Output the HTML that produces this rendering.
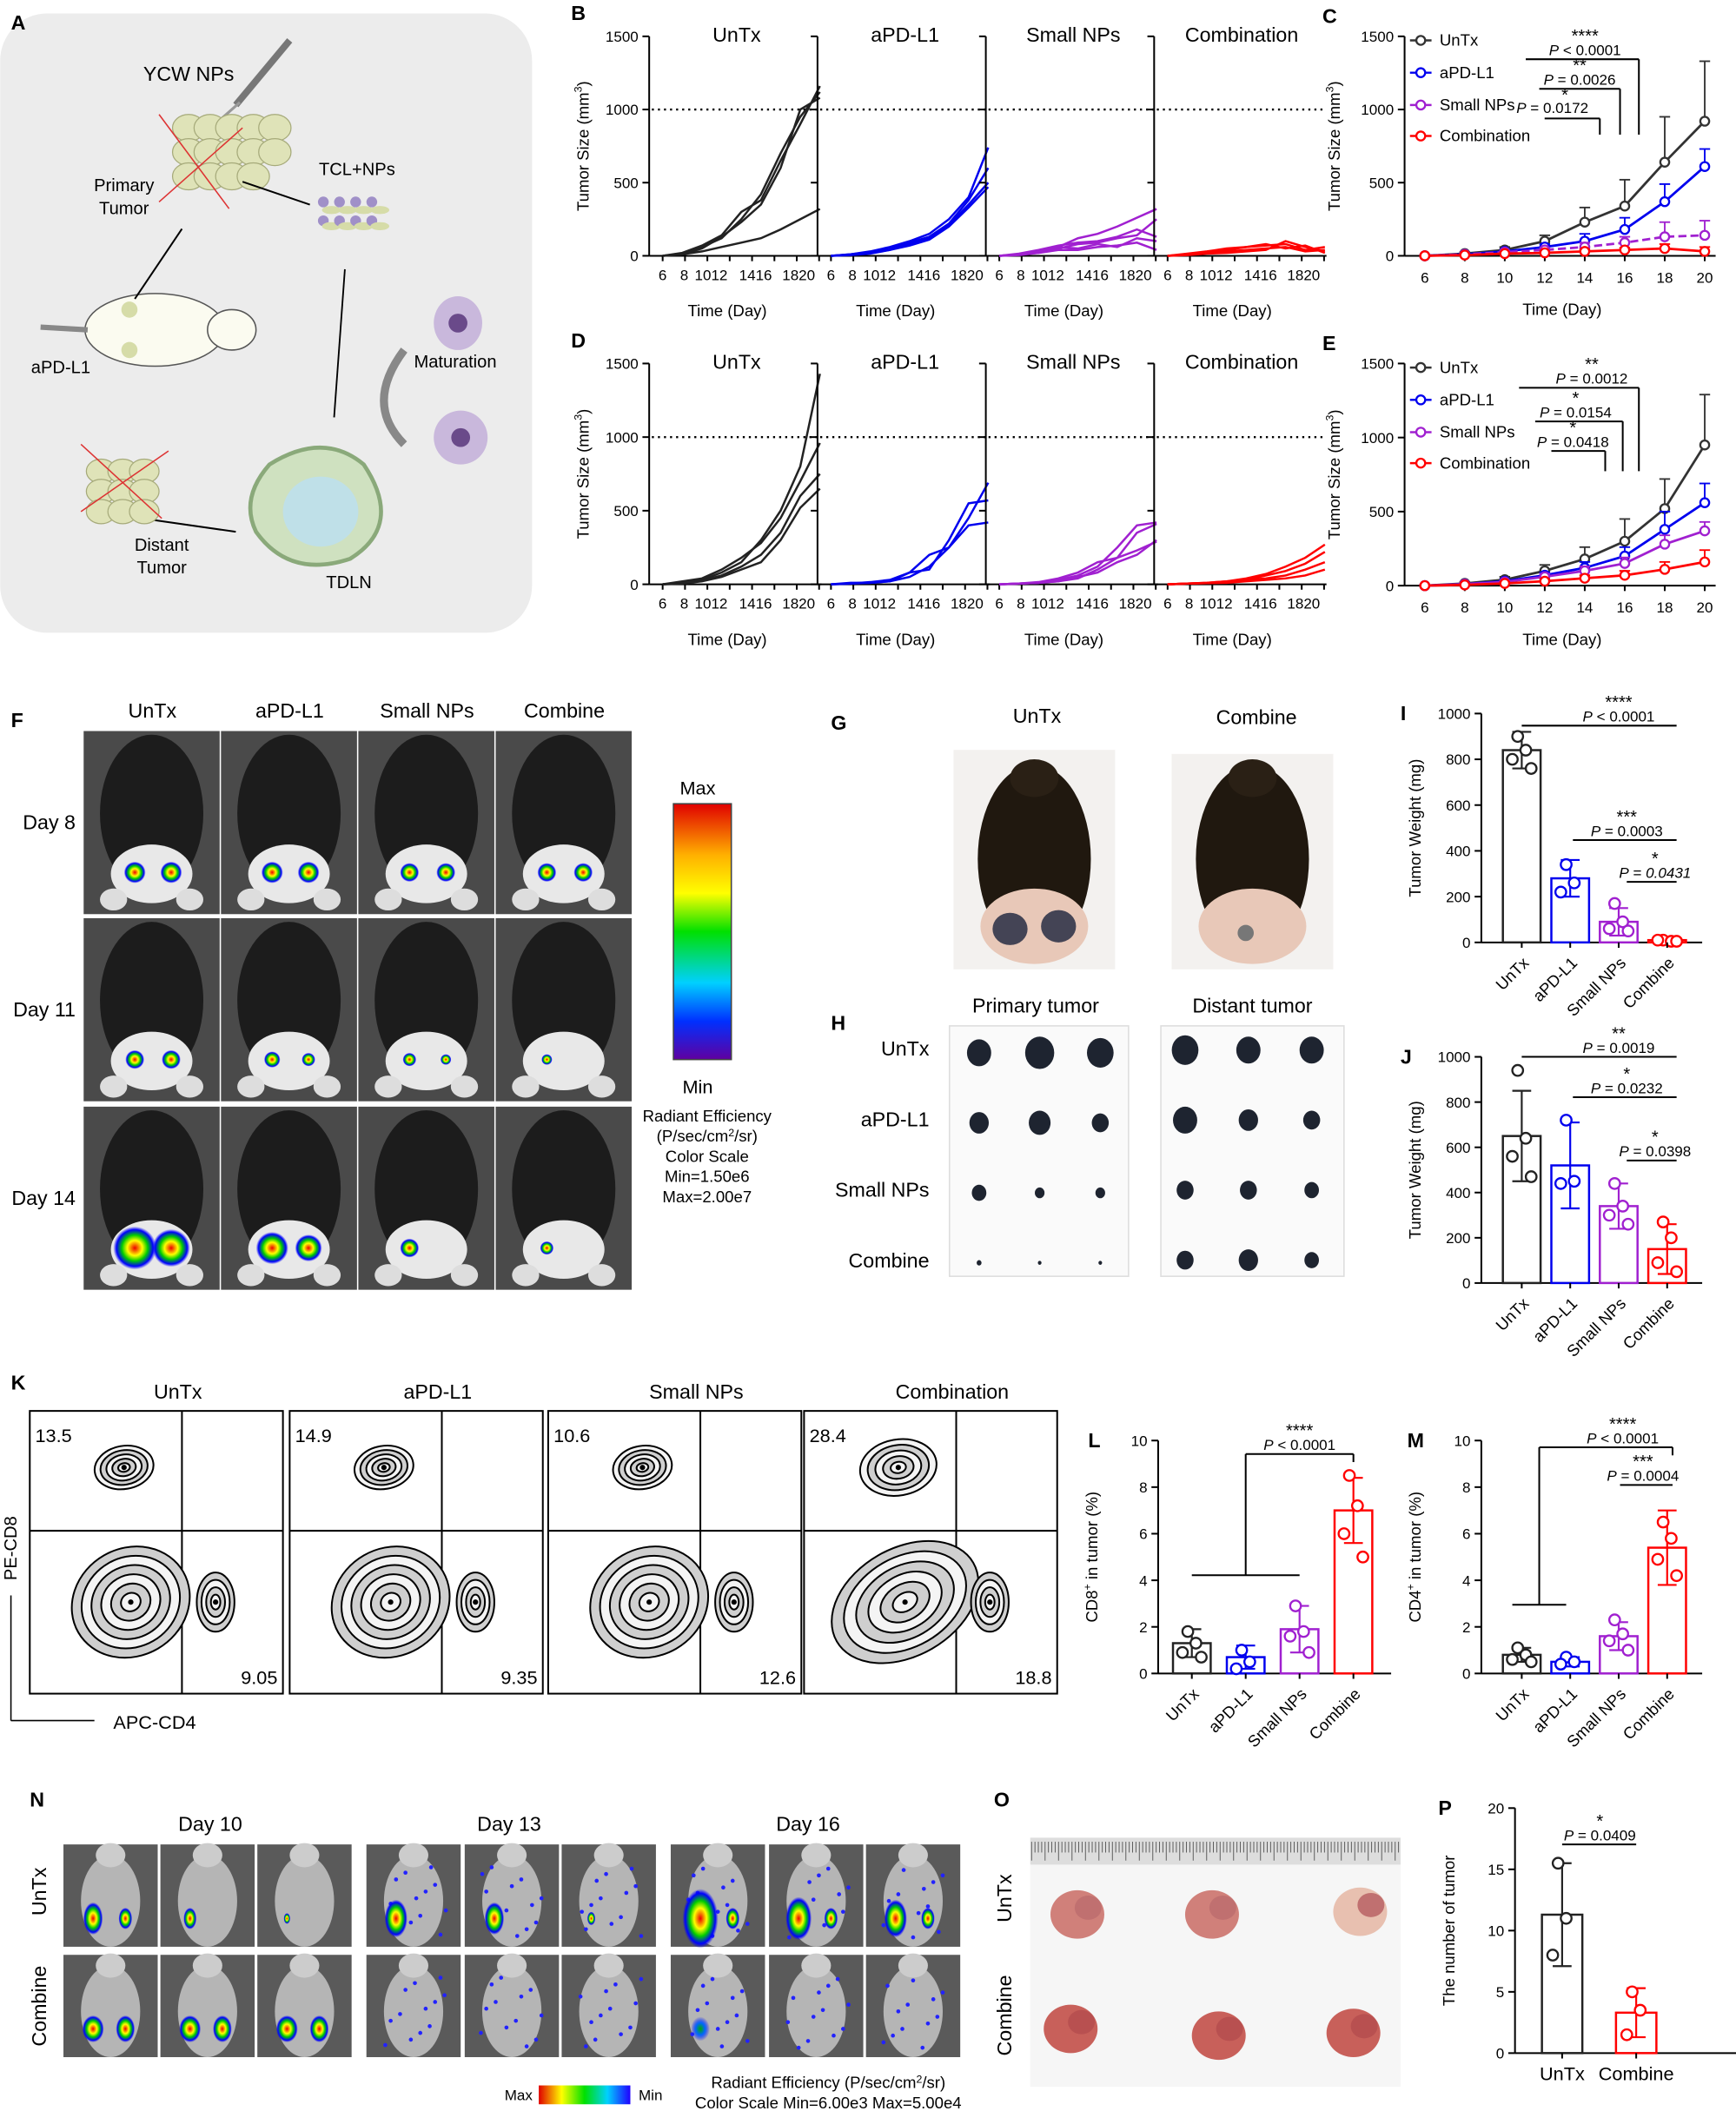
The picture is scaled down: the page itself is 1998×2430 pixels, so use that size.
<!DOCTYPE html>
<html><head><meta charset="utf-8">
<style>
html,body{margin:0;padding:0;background:#fff}
svg{display:block}
text{font-family:"Liberation Sans",Arial,sans-serif;fill:#000}
</style></head>
<body>
<svg id="s" width="1998" height="2430" viewBox="0 0 1289 1568" xmlns="http://www.w3.org/2000/svg">
<defs>
<linearGradient id="cb" x1="0" y1="0" x2="0" y2="1">
<stop offset="0" stop-color="#e00000"/><stop offset="0.2" stop-color="#ffb000"/><stop offset="0.35" stop-color="#ffff00"/><stop offset="0.5" stop-color="#00e000"/><stop offset="0.7" stop-color="#00d0ff"/><stop offset="0.85" stop-color="#0030ff"/><stop offset="1" stop-color="#6000a0"/></linearGradient>
<linearGradient id="cbh" x1="0" y1="0" x2="1" y2="0">
<stop offset="0" stop-color="#e00000"/><stop offset="0.25" stop-color="#ffff00"/><stop offset="0.5" stop-color="#00e000"/><stop offset="0.75" stop-color="#00d0ff"/><stop offset="1" stop-color="#2000ff"/></linearGradient>
<radialGradient id="spot"><stop offset="0" stop-color="#e00"/><stop offset="0.35" stop-color="#ff0"/><stop offset="0.6" stop-color="#0c0"/><stop offset="0.85" stop-color="#00f"/><stop offset="1" stop-color="#00f" stop-opacity="0"/></radialGradient>
<radialGradient id="spotb"><stop offset="0" stop-color="#0a0"/><stop offset="0.5" stop-color="#06f"/><stop offset="1" stop-color="#00f" stop-opacity="0"/></radialGradient>
</defs>
<g id="g"></g>
</svg>
<script>
var G=document.getElementById('g'),o='';
function T(x,y,s,sz,a,ex){o+='<text x="'+x+'" y="'+y+'" font-size="'+(sz||12)+'" text-anchor="'+(a||'start')+'" '+(ex||'')+'>'+s+'</text>';}
function L(x1,y1,x2,y2,c,w,ex){o+='<line x1="'+x1+'" y1="'+y1+'" x2="'+x2+'" y2="'+y2+'" stroke="'+(c||'#000')+'" stroke-width="'+(w||1.3)+'" '+(ex||'')+'/>';}
function R(x,y,w,h,f,ex){o+='<rect x="'+x+'" y="'+y+'" width="'+w+'" height="'+h+'" fill="'+f+'" '+(ex||'')+'/>';}
function E(x,y,rx,ry,f,ex){o+='<ellipse cx="'+x+'" cy="'+y+'" rx="'+rx+'" ry="'+ry+'" fill="'+f+'" '+(ex||'')+'/>';}
function P(pts,c,w,ex){o+='<polyline points="'+pts+'" fill="none" stroke="'+c+'" stroke-width="'+(w||1.5)+'" '+(ex||'')+'/>';}
function RT(x,y,s,sz,a){T(x,y,s,sz,a||'middle','transform="rotate(-90 '+x+' '+y+')"');}
function LBL(x,y,s){T(x,y,s,15,'start','font-weight="bold"');}
// ---------- Panel A
o+='<rect x="0" y="10" width="395" height="460" rx="35" fill="#ececec"/>';
LBL(8,22,'A');
T(140,60,'YCW NPs',15,'middle');
L(175,78,215,30,'#777',5);L(160,92,178,76,'#999',2);
for(var i=0;i<14;i++){E(140+(i%5)*16,95+Math.floor(i/5)*18,12,10,'#dfe3b8','stroke="#a6aa7a" stroke-width="0.8"');}
L(118,85,170,155,'#d33',1);L(118,150,180,95,'#d33',1);
T(92,142,'Primary',13,'middle');T(92,159,'Tumor',13,'middle');
L(180,135,230,152,'#000',1.3);
T(265,130,'TCL+NPs',13,'middle');
for(var i=0;i<8;i++){E(240+(i%4)*12,150+Math.floor(i/4)*14,4,4,'#a090c8');E(246+(i%4)*12,156+Math.floor(i/4)*12,7,3,'#d6dca8');}
E(115,245,52,27,'#fbfbf0','stroke="#555" stroke-width="1"');E(172,245,18,15,'#fbfbf0','stroke="#555" stroke-width="1"');
E(96,260,6,6,'#d6dca8');E(96,230,6,6,'#d6dca8');
L(30,243,65,245,'#888',4);T(45,277,'aPD-L1',13,'middle');
L(100,222,135,170,'#000',1.3);
L(256,200,248,310,'#000',1.2);
o+='<path d="M300 260 Q270 300 300 330" fill="none" stroke="#888" stroke-width="6"/>';
E(340,240,18,20,'#c9b8dc');E(340,240,7,7,'#6a4a8a');
E(342,325,20,20,'#c9b8dc');E(342,325,7,7,'#6a4a8a');
T(338,273,'Maturation',13,'middle');
o+='<path d="M200 345 Q240 320 270 345 Q300 390 260 415 Q215 430 190 395 Q178 370 200 345 Z" fill="#cfe1c0" stroke="#8aa97a" stroke-width="3"/>';
E(238,380,28,26,'#bfe0e8');
T(259,437,'TDLN',13,'middle');
L(175,395,105,385,'#000',1.3);
for(var i=0;i<9;i++){E(75+(i%3)*16,350+Math.floor(i/3)*15,11,9,'#dfe3b8','stroke="#a6aa7a" stroke-width="0.8"');}
L(60,330,120,385,'#d33',1);L(60,380,125,335,'#d33',1);
T(120,409,'Distant',13,'middle');T(120,426,'Tumor',13,'middle');
// ---------- B & D
var ttl=['UnTx','aPD-L1','Small NPs','Combination'],cols=['#222','#0000ee','#a020d0','#ff0000'];
var dataB=[
[[0,15,60,120,250,420,700,950,1120],[0,20,70,140,300,380,650,900,1160],[0,10,50,130,230,350,600,1000,1080],[0,10,30,60,90,120,180,250,320]],
[[0,10,30,60,100,150,250,400,740],[0,10,25,55,90,130,220,380,600],[0,8,20,40,80,120,210,350,500],[0,5,15,40,70,110,200,330,470]],
[[0,10,30,60,120,150,200,260,320],[0,5,20,50,80,90,120,140,250],[0,8,30,60,50,80,60,120,100],[0,15,40,70,90,100,130,180,130],[0,10,20,40,40,60,70,90,40]],
[[0,10,20,30,40,50,60,30,40],[0,15,30,50,60,70,80,40,60],[0,5,15,20,30,40,100,60,30],[0,8,20,40,60,80,50,70,20]]];
var dataD=[
[[0,10,30,80,150,300,500,800,1430],[0,20,40,100,180,280,450,700,960],[0,10,25,60,120,200,350,600,750],[0,5,20,50,100,150,300,520,650]],
[[0,5,10,20,50,120,250,450,690],[0,5,15,30,80,100,300,550,570],[0,10,10,20,80,200,250,400,420]],
[[0,5,10,30,60,120,250,400,420],[0,5,15,40,80,150,180,350,410],[0,5,10,20,50,80,150,200,300],[0,5,10,20,40,100,180,230,290]],
[[0,5,10,20,40,70,120,180,270],[0,5,10,20,30,60,90,140,220],[0,5,8,15,30,40,60,100,150],[0,5,8,10,20,30,40,60,100]]];
function small(top,bot,data,lb){
 var ax=[482,607,732,857];
 LBL(424,top-12,lb);
 RT(437,(top+bot)/2,'Tumor Size (mm<tspan dy="-5" font-size="8">3</tspan><tspan dy="5">)</tspan>',12);
 for(var p=0;p<4;p++){
  var x0=ax[p];
  T(x0+65,top+4,ttl[p],15,'middle');
  L(x0,top,x0,bot);
  for(var k=0;k<=3;k++){var yy=bot-(bot-top)*k/3;L(x0-5,yy,x0,yy);if(p==0)T(x0-8,yy+4,[0,500,1000,1500][k],11,'end');}
  L(x0,bot,x0+128,bot);
  L(x0+2,top+(bot-top)/3,x0+126,top+(bot-top)/3,'#000',1.5,'stroke-dasharray="1.5,3"');
  for(var d=0;d<8;d++){var xx=x0+10+d*16.6;L(xx,bot,xx,bot+4);}
  T(x0+10,bot+18,'6',11,'middle');T(x0+26,bot+18,'8',11,'middle');T(x0+46,bot+18,'1012',11,'middle');T(x0+79,bot+18,'1416',11,'middle');T(x0+111,bot+18,'1820',11,'middle');
  T(x0+58,bot+45,'Time (Day)',12,'middle');
  data[p].forEach(function(s){var pts=s.map(function(v,i){return (x0+10+i*14.6)+','+(bot-v/1500*(bot-top))}).join(' ');P(pts,cols[p],1.6);});
 }
}
small(27,190,dataB,'B');small(270,434,dataD,'D');
// ---------- C & E
function big(top,bot,lb,means,errs,sig){
 var x0=1043,xs=1058,xe=1266;
 LBL(982,top-10,lb);
 RT(995,(top+bot)/2,'Tumor Size (mm<tspan dy="-5" font-size="8">3</tspan><tspan dy="5">)</tspan>',12);
 L(x0,top,x0,bot);L(x0,bot,xe+8,bot);
 for(var k=0;k<=3;k++){var yy=bot-(bot-top)*k/3;L(x0-5,yy,x0,yy);T(x0-8,yy+4,[0,500,1000,1500][k],11,'end');}
 for(var d=0;d<8;d++){var xx=xs+d*29.7;L(xx,bot,xx,bot+4);T(xx,bot+20,6+2*d,11,'middle');}
 T(1160,bot+44,'Time (Day)',12,'middle');
 for(var s=0;s<4;s++){
  var c=cols[s];if(s==0)c='#333';
  var pts=[];
  means[s].forEach(function(v,i){var xx=xs+i*29.7,yy=bot-v/1500*(bot-top),ey=errs[s][i]/1500*(bot-top);pts.push(xx+','+yy);L(xx,yy-ey,xx,yy,c,1.2);L(xx-4,yy-ey,xx+4,yy-ey,c,1.2);});
  P(pts.join(' '),c,1.8,(s==2&&lb=='C')?'stroke-dasharray="6,3"':'');
  means[s].forEach(function(v,i){var xx=xs+i*29.7,yy=bot-v/1500*(bot-top);E(xx,yy,3.3,3.3,'#fff','stroke="'+c+'" stroke-width="1.5"');});
 }
 var ly=[top+3,top+27,top+51,top+74],nm=['UnTx','aPD-L1','Small NPs','Combination'];
 for(var s=0;s<4;s++){var c=s==0?'#333':cols[s];L(1047,ly[s],1063,ly[s],c,1.6);E(1055,ly[s],3.3,3.3,'#fff','stroke="'+c+'" stroke-width="1.5"');T(1069,ly[s]+4,nm[s],12);}
 sig.forEach(function(g){L(g[0],g[1],g[2],g[1]);L(g[2],g[1],g[2],g[3]);T(g[4],g[1]-3,g[5],11,'middle');T(g[4],g[1]-13,g[6],13,'middle');});
}
big(27,190,'C',[[0,15,40,100,230,340,640,920],[0,10,30,60,100,180,370,610],[0,10,25,40,60,90,130,140],[0,5,15,20,30,40,50,30]],[[0,10,20,40,100,180,310,410],[0,5,10,20,50,80,120,120],[0,5,10,15,30,40,100,100],[0,5,5,10,15,15,30,30]],
[[1133,44,1217,100,1177,'<tspan font-style="italic">P</tspan> &lt; 0.0001','****'],[1143,66,1203,100,1173,'<tspan font-style="italic">P</tspan> = 0.0026','**'],[1147,88,1188,100,1162,'','*']]);
T(1126,84,'<tspan font-style="italic">P</tspan> = 0.0172',11);
big(270,435,'E',[[0,15,40,100,180,300,520,950],[0,10,30,70,120,200,380,560],[0,10,25,60,100,150,280,370],[0,5,15,30,50,70,110,160]],[[0,10,20,40,80,150,200,340],[0,5,10,20,40,60,120,130],[0,5,10,20,30,40,60,60],[0,5,10,15,20,30,50,80]],
[[1128,288,1217,350,1182,'<tspan font-style="italic">P</tspan> = 0.0012','**'],[1140,313,1205,350,1170,'<tspan font-style="italic">P</tspan> = 0.0154','*'],[1152,335,1192,350,1168,'<tspan font-style="italic">P</tspan> = 0.0418','*']]);
// ---------- F
LBL(8,540,'F');
var fx=[62,164,266,368],fy=[543,682,822],fr=['Day 8','Day 11','Day 14'];
['UnTx','aPD-L1','Small NPs','Combine'].forEach(function(s,i){T(fx[i]+51,533,s,15,'middle');});
function mouse(x,y,w,h){R(x,y,w,h,'#4a4a4a');E(x+w/2,y+h*0.45,w*0.38,h*0.43,'#1c1c1c');E(x+w/2,y+h*0.78,w*0.3,h*0.16,'#e8e8e8');E(x+w*0.22,y+h*0.92,w*0.1,h*0.06,'#ddd');E(x+w*0.78,y+h*0.92,w*0.1,h*0.06,'#ddd');}
var spotsF=[[[8,8],[8,8],[7,7],[7,7]],[[7,7],[6,5],[5,4],[4,0]],[[16,14],[12,10],[7,0],[5,0]]];
for(var r=0;r<3;r++)for(var c=0;c<4;c++){var x=fx[c],y=fy[r];mouse(x,y,101,136);var sp=spotsF[r][c];
 if(sp[0])E(x+38,y+105,sp[0],sp[0],'url(#spot)');if(sp[1])E(x+65,y+105,sp[1],sp[1],'url(#spot)');}
fr.forEach(function(s,r){T(56,fy[r]+73,s,15,'end');});
R(500,597,43,190,'url(#cb)','stroke="#444" stroke-width="1"');
T(518,590,'Max',14,'middle');T(518,812,'Min',14,'middle');
['Radiant Efficiency','(P/sec/cm<tspan dy="-4" font-size="8">2</tspan><tspan dy="4">/sr)</tspan>','Color Scale','Min=1.50e6','Max=2.00e7'].forEach(function(s,i){T(525,833+i*15,s,12,'middle');});
// ---------- G
LBL(617,542,'G');T(770,537,'UnTx',15,'middle');T(933,538,'Combine',15,'middle');
R(708,557,120,163,'#f3f1ef');R(870,560,120,160,'#f3f1ef');
[[768,638],[930,638]].forEach(function(p,i){E(p[0],p[1],42,70,'#20180f');E(p[0],p[1]+50,40,28,'#e8c8b8');E(p[0],p[1]-60,18,14,'#2a2015');
 if(i==0){E(p[0]-18,p[1]+52,13,12,'#445');E(p[0]+18,p[1]+50,13,12,'#445');}else{E(p[0]-5,p[1]+55,6,6,'#777');}});
// ---------- H
LBL(617,765,'H');T(769,752,'Primary tumor',15,'middle');T(930,752,'Distant tumor',15,'middle');
R(705,762,133,186,'#fafafa','stroke="#ddd"');R(862,762,136,186,'#fafafa','stroke="#ddd"');
['UnTx','aPD-L1','Small NPs','Combine'].forEach(function(s,i){T(690,784+i*52.5,s,15,'end');});
var hs=[[[10,12,11],[11,10,10]],[[8,9,7],[10,8,7]],[[6,4,4],[7,7,6]],[[2,1.5,1.5],[7,8,6]]];
for(var r=0;r<4;r++)for(var c=0;c<3;c++){E(727+c*45,782+r*52,hs[r][0][c]*0.9,hs[r][0][c],'#1e2430');E(880+c*47,780+r*52,hs[r][1][c]*0.9,hs[r][1][c],'#1e2430');}
// ---------- bars
function bars(x0,top,bot,maxv,ticks,vals,errs,pts,names,ylab,lb,lbx,sigs,w,gap,start){
 LBL(lbx,top+5,lb);
 RT(x0-45,(top+bot)/2,ylab,12);
 L(x0,top,x0,bot);L(x0,bot,x0+start+gap*4-gap/2+8,bot);
 ticks.forEach(function(t){var yy=bot-t/maxv*(bot-top);L(x0-5,yy,x0,yy);T(x0-8,yy+4,t,11,'end');});
 for(var i=0;i<vals.length;i++){var cx=x0+start+i*gap,c=i==0?'#222':cols[i];if(vals.length==2)c=i==0?'#222':'#f00';
  var yy=bot-vals[i]/maxv*(bot-top),ey=errs[i]/maxv*(bot-top);
  R(cx-w/2,yy,w,bot-yy,'none','stroke="'+c+'" stroke-width="1.6"');
  L(cx,yy-ey,cx,yy+ey,c,1.4);L(cx-7,yy-ey,cx+7,yy-ey,c,1.4);L(cx-7,yy+ey,cx+7,yy+ey,c,1.4);
  pts[i].forEach(function(v,j){var dx=(j%2?1:-1)*(j>1?7:3);E(cx+dx,bot-v/maxv*(bot-top),4,4,'#fff','stroke="'+c+'" stroke-width="1.5"');});
  L(cx,bot,cx,bot+4);
  if(vals.length==2)T(cx,bot+20,names[i],14,'middle');
  else T(cx+6,bot+16,names[i],12,'end','transform="rotate(-45 '+(cx+6)+' '+(bot+16)+')"');
 }
 sigs.forEach(function(g){L(g[0],g[1],g[2],g[1]);T(g[3],g[1]-3,g[4],11,'middle');T(g[3],g[1]-13,g[5],13,'middle');if(g[6])o+=g[6];});
}
var nm4=['UnTx','aPD-L1','Small NPs','Combine'];
bars(1100,530,700,1000,[0,200,400,600,800,1000],[840,280,90,10],[80,80,60,10],[[900,840,800,760],[340,260,220],[170,90,60,50],[10,5,10,5]],nm4,'Tumor Weight (mg)','I',1040,
[[1130,539,1245,1202,'<tspan font-style="italic">P</tspan> &lt; 0.0001','****'],[1168,624,1245,1208,'<tspan font-style="italic">P</tspan> = 0.0003','***'],[1208,655,1245,1229,'<tspan font-style="italic">P</tspan> = <tspan font-style="italic">0.0431</tspan>','*']],28,36,30);
bars(1100,785,953,1000,[0,200,400,600,800,1000],[650,520,340,150],[200,190,100,110],[[940,640,560,470],[720,450,440],[440,340,300,260],[270,200,90,50]],nm4,'Tumor Weight (mg)','J',1040,
[[1130,785,1245,1202,'<tspan font-style="italic">P</tspan> = 0.0019','**'],[1168,815,1245,1208,'<tspan font-style="italic">P</tspan> = 0.0232','*'],[1208,862,1245,1229,'<tspan font-style="italic">P</tspan> = 0.0398','*']],28,36,30);
// ---------- K
LBL(8,1032,'K');
var kx=[22,215,407,597],kt=['UnTx','aPD-L1','Small NPs','Combination'],kq=[['13.5','9.05'],['14.9','9.35'],['10.6','12.6'],['28.4','18.8']];
function blob(cx,cy,rx,ry,rot,n){for(var i=n;i>0;i--){var f=i/n;E(cx,cy,rx*f,ry*f,i%2?'#f4f4f4':'#cfcfcf','stroke="#000" stroke-width="1.3" transform="rotate('+rot+' '+cx+' '+cy+')"');}E(cx,cy,2,2,'#000');}
for(var p=0;p<4;p++){var x=kx[p];T(x+110,1039,kt[p],15,'middle');R(x,1048,188,210,'#fff','stroke="#000" stroke-width="1.3"');
 L(x+113,1048,x+113,1258);L(x,1137,x+188,1137);
 T(x+4,1071,kq[p][0],14);T(x+184,1251,kq[p][1],14,'end');
 var bg=p==3?1.3:1;
 blob(x+70,1090,22*bg,16*bg,-10,5);blob(x+75,1190,45*bg,40,-30,6);blob(x+138,1190,14,22,0,4);}
RT(12,1150,'PE-CD8',13);L(8,1185,8,1278,'#000',1);L(8,1278,70,1278,'#000',1);T(84,1284,'APC-CD4',14);
bars(860,1070,1243,10,[0,2,4,6,8,10],[1.3,0.7,1.9,7],[0.6,0.5,1.0,1.4],[[1.8,1.3,0.9,0.7],[1.0,0.5,0.2],[2.9,1.8,1.6,0.9],[8.5,7.2,6,5]],nm4,'CD8<tspan dy="-5" font-size="8">+</tspan><tspan dy="5"> in tumor (%)</tspan>','L',808,
[[925,1080,1005,965,'<tspan font-style="italic">P</tspan> &lt; 0.0001','****','<line x1="925" y1="1080" x2="925" y2="1170" stroke="#000" stroke-width="1.3"/><line x1="885" y1="1170" x2="965" y2="1170" stroke="#000" stroke-width="1.3"/><line x1="1005" y1="1080" x2="1005" y2="1086" stroke="#000" stroke-width="1.3"/>']],28,40,25);
bars(1100,1070,1243,10,[0,2,4,6,8,10],[0.8,0.5,1.6,5.4],[0.3,0.2,0.6,1.6],[[1.1,0.8,0.6,0.5],[0.7,0.5,0.4],[2.3,1.7,1.4,1.0],[6.5,5.8,4.9,4.2]],nm4,'CD4<tspan dy="-5" font-size="8">+</tspan><tspan dy="5"> in tumor (%)</tspan>','M',1045,
[[1143,1075,1242,1205,'<tspan font-style="italic">P</tspan> &lt; 0.0001','****','<line x1="1143" y1="1075" x2="1143" y2="1192" stroke="#000" stroke-width="1.3"/><line x1="1123" y1="1192" x2="1163" y2="1192" stroke="#000" stroke-width="1.3"/><line x1="1242" y1="1075" x2="1242" y2="1081" stroke="#000" stroke-width="1.3"/>'],[1203,1103,1242,1220,'<tspan font-style="italic">P</tspan> = 0.0004','***']],28,36,30);
// ---------- N
LBL(22,1342,'N');
['Day 10','Day 13','Day 16'].forEach(function(s,i){T(156+i*222,1360,s,15,'middle');});
RT(34,1405,'UnTx',15);RT(34,1490,'Combine',15);
var nx=[47,119,191,272,345,417,498,571,643];
for(var r=0;r<2;r++)for(var c=0;c<9;c++){var x=nx[c],y=r?1452:1370;R(x,y,70,76,'#5a5a5a');E(x+35,y+42,22,34,'#b5b5b5');E(x+35,y+8,11,9,'#ccc');
 var g=Math.floor(c/3);
 if(g>0){for(var k=0;k<12;k++)E(x+12+((k*37+c*13+r*7)%48),y+15+((k*23+c*5)%55),1.5,1.5,'#22f');}
 if(r==0){var sz=[[12,8,4],[14,12,5],[22,16,14]][g][c%3];E(x+22,y+55,sz*0.6,sz,'url(#spot)');if(c==0||g==2)E(x+46,y+55,5,8,'url(#spot)');}
 else{if(g==0){E(x+22,y+55,8,10,'url(#spot)');E(x+46,y+55,7,10,'url(#spot)');}else if(c==6)E(x+22,y+55,7,9,'url(#spotb)');}}
T(385,1560,'Max',11,'middle');R(400,1549,68,14,'url(#cbh)');T(483,1560,'Min',11,'middle');
T(615,1551,'Radiant Efficiency (P/sec/cm<tspan dy="-4" font-size="8">2</tspan><tspan dy="4">/sr)</tspan>',12,'middle');T(615,1566,'Color Scale Min=6.00e3 Max=5.00e4',12,'middle');
// ---------- O
LBL(738,1342,'O');RT(751,1410,'UnTx',15);RT(751,1497,'Combine',15);
R(765,1365,275,185,'#f6f6f6');R(765,1365,275,20,'#ddd');
for(var i=0;i<110;i++)L(766+i*2.5,1368,766+i*2.5,i%4?1376:1382,'#555',0.6);
[[800,1422],[900,1422],[1010,1420],[795,1507],[905,1512],[1005,1510]].forEach(function(p,i){E(p[0],p[1],20,18,i<3?(i==2?'#e8c0b0':'#d0807a'):'#c8605a');E(p[0]+8,p[1]-5,10,9,i<3?'#c07070':'#b85050');});
// ---------- P
bars(1125,1343,1525,20,[0,5,10,15,20],[11.3,3.3],[4.2,2.0],[[15.5,11,8],[5,3.5,1.5]],['UnTx','Combine'],'The number of tumor','P',1068,
[[1160,1370,1215,1188,'<tspan font-style="italic">P</tspan> = 0.0409','*']],30,55,35);
G.innerHTML=o;
</script>
</body></html>
